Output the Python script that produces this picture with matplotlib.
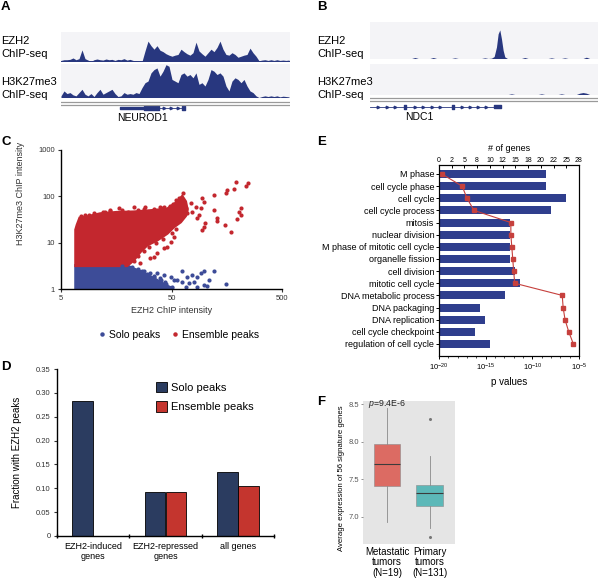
from matplotlib import pyplot as plt
from matplotlib.lines import Line2D
import numpy as np

W, H = 601, 579
plt.rcParams['font.family'] = ['Liberation Sans', 'DejaVu Sans']
plt.rcParams['mathtext.fontset'] = 'custom'
plt.rcParams['mathtext.rm'] = 'Liberation Sans'
plt.rcParams['mathtext.it'] = 'Liberation Sans:italic'

NAVY = "#28377f"
TRACK_BG = "#f4f4f7"

# ---------- A: NEUROD1 locus (signal per bin) ----------
a_ezh2 = [3, 5, 5, 6, 10, 5, 8, 33, 8, 4, 0, 5, 7, 5, 4, 7, 5, 6, 3, 6, 5, 8, 4, 6, 3, 2,
          0, 0, 30, 58, 45, 35, 45, 32, 28, 22, 18, 15, 18, 20, 35, 28, 22, 18, 25, 55,
          30, 22, 15, 25, 35, 28, 40, 58, 35, 20, 18, 25, 20, 12, 15, 18, 20, 38, 25, 15,
          2, 4, 5, 3, 5, 3, 5, 3, 4, 3, 4]
a_h3k = [5, 20, 12, 15, 8, 5, 15, 25, 10, 5, 12, 3, 15, 25, 10, 15, 20, 25, 12, 3, 5, 15,
         10, 12, 10, 15, 12, 30, 45, 50, 75, 85, 90, 65, 80, 100, 95, 55, 50, 45, 70, 75,
         65, 70, 60, 75, 40, 45, 35, 55, 85, 80, 70, 75, 65, 35, 20, 50, 60, 55, 45, 55,
         35, 20, 15, 5, 0, 3, 5, 3, 5, 3, 5, 2, 4, 3, 2]
a_exons = [(188, 70), (258, 47), (372, 9)]
a_exon_h = [2.4, 4.4, 3.4]
a_arrows = [320, 340, 360]
a_gene_span = [188, 381]

# ---------- B: NDC1 locus ----------
b_ezh2_pos = [15, 140, 150, 160, 195, 205, 215, 260, 270, 280, 350, 360, 370, 380, 388, 395,
              400, 405, 410, 415, 420, 428, 470, 480, 490, 550, 560, 570, 590, 600, 610,
              655, 665, 675, 700]
b_ezh2 = [0, 0, 3, 0, 0, 3, 0, 0, 2, 0, 0, 2, 0, 1, 6, 35, 75, 87, 60, 25, 5, 0, 0, 3, 0,
          0, 2, 0, 0, 2, 0, 0, 4, 0, 0]
b_h3k_pos = [15, 430, 440, 450, 520, 530, 540, 580, 590, 600, 635, 645, 655, 665, 675, 700]
b_h3k = [0, 0, 2, 0, 0, 2, 0, 0, 2, 0, 0, 4, 6, 4, 0, 0]
b_exons = [(117, 5), (262, 5), (388, 20)]
b_exon_h = [4.0, 4.0, 3.0]
b_arrows = [40, 65, 90, 150, 175, 200, 225, 290, 315, 340, 365]
b_gene_span = [15, 408]

# ---------- C: scatter (dense clouds + individual points) ----------
c_split = 3.2
red_cloud_x = [6.8, 6.8, 7.0, 7.4, 8.6, 11.3, 16.0, 22.7, 32.2, 45.7, 56.3, 62.5, 67.0,
               69.4, 67.0, 60.4, 52.5, 45.7, 37.1, 30.1, 26.1, 22.7, 19.8]
red_cloud_y = [c_split, 19, 24, 34, 36, 42, 45, 46, 49, 53, 75, 99, 77,
               51, 38, 28, 22, 15.9, 11.4, 8.9, 6.4, 4.2, c_split]
blue_cloud_x = [6.8, 6.8, 19.8, 21.9, 26.1, 32.2, 39.7, 45.7, 52.5]
blue_cloud_y = [1.0, c_split, c_split, 2.8, 2.4, 1.85, 1.4, 1.15, 1.0]
red_x = [191, 244, 235, 160, 184, 155, 121, 121, 128, 130, 152, 172, 212, 205, 215, 195,
         95, 98, 92, 88.5, 82.6, 77, 99.8, 98.4, 95, 85.5, 74.4, 69.4, 52.5, 49, 45.7,
         42.6, 37.1, 34.5, 32.2, 60.4, 62.5, 67, 63.8, 29, 16.6, 13.9, 12.1, 22.7, 39.7,
         26.1,
         9.0, 10.0, 12.5, 14.0, 18.0, 20.0, 25.0, 28.0, 35.0, 40.0, 43.0, 48.0, 52.0,
         55.0, 58.0, 55.0, 50.0, 42.0, 36.0, 31.0, 28.0, 25.0, 23.0, 7.6, 8.2]
red_y = [208, 191, 168, 137, 142, 116, 107, 51, 34, 30, 24, 17.3, 55, 47, 40, 32,
         91, 77, 55, 40, 60, 47, 26, 22, 19, 34, 71, 43, 13.5, 10.5, 8.2,
         7.6, 5.9, 5.0, 4.6, 40, 77, 55, 116, 58, 55, 51, 47, 60, 58,
         3.7,
         40, 44, 45, 49, 50, 46, 50, 52, 53, 55, 60, 62, 68,
         85, 90, 20, 16, 12, 10, 8, 6.5, 5.2, 4.0, 38, 40]
blue_x = [28.0, 37.1, 42.6, 49.0, 62.5, 69.4, 77.1, 85.5, 91.8, 98.4, 109, 121, 155, 98.4,
          79.8, 62.5, 52.5, 34.5, 30.1, 44.1, 67, 85.5, 105, 7.2, 7.2, 32.2, 39.7, 56.3, 72,
          22, 25, 27, 30, 35, 40, 45, 50, 18]
blue_y = [2.4, 2.2, 2.0, 1.85, 2.4, 1.85, 2.0, 1.85, 2.2, 2.4, 1.56, 2.4, 1.28, 1.22,
          1.44, 1.44, 1.56, 1.85, 1.44, 1.44, 1.12, 1.12, 1.16, 2.5, 1.3, 2.2, 1.7, 1.6, 1.32,
          3.0, 2.7, 2.5, 2.1, 1.9, 1.6, 1.3, 1.1, 3.1]

# ---------- D: bars ----------
d_groups = ["EZH2-induced\ngenes", "EZH2-repressed\ngenes", "all genes"]
d_solo = [0.282, 0.092, 0.134]
d_ensemble = [0.0, 0.092, 0.104]
d_yticks = [0, 0.05, 0.10, 0.15, 0.20, 0.25, 0.30, 0.35]
d_yticklabels = ["0", "0.05", "0.10", "0.15", "0.20", "0.25", "0.30", "0.35"]

# ---------- E: GO terms ----------
e_terms = ["M phase", "cell cycle phase", "cell cycle", "cell cycle process", "mitosis",
           "nuclear division", "M phase of mitotic cell cycle", "organelle fission",
           "cell division", "mitotic cell cycle", "DNA metabolic process", "DNA packaging",
           "DNA replication", "cell cycle checkpoint", "regulation of cell cycle"]
e_genes = [21, 21, 25, 22, 14, 14, 14, 14, 15, 16, 13, 8, 9, 7, 10]
e_pvals = [2e-20, 3e-18, 1e-17, 5.6e-17, 5e-13, 5e-13, 6.3e-13, 8e-13, 1e-12, 1.3e-12,
           1.6e-7, 2e-7, 3.2e-7, 8e-7, 2.5e-6]
e_gene_ticks = [0, 2.5, 5, 7.5, 10, 12.5, 15, 17.5, 20, 22.5, 25, 27.5]
e_gene_ticklabels = ["0", "2", "5", "8", "10", "12", "15", "18", "20", "22", "25", "28"]
e_p_ticks = [1e-20, 1e-15, 1e-10, 1e-5]
e_p_ticklabels = [r"$10^{-20}$", r"$10^{-15}$", r"$10^{-10}$", r"$10^{-5}$"]

# ---------- F: boxplots ----------
f_labels = ["Metastatic\ntumors\n(N=19)", "Primary\ntumors\n(N=131)"]
f_med = [7.70, 7.32]
f_q1 = [7.41, 7.15]
f_q3 = [7.97, 7.42]
f_lo = [6.93, 6.85]
f_hi = [8.45, 7.81]
f_fliers = [[], [6.73, 8.30]]


def add_ax(fig, x0, y0, x1, y1):
    return fig.add_axes([x0 / W, 1 - y1 / H, (x1 - x0) / W, (y1 - y0) / H])


def ftext(fig, x, y, s, **kw):
    kw.setdefault("va", "center")
    fig.text(x / W, 1 - y / H, s, **kw)


def clean(ax):
    ax.set_xticks([])
    ax.set_yticks([])
    for s in ax.spines.values():
        s.set_visible(False)


def track(ax, x, y, ymax, xlim):
    clean(ax)
    ax.set_facecolor(TRACK_BG)
    ax.fill_between(x, 0, y, color=NAVY, lw=0)
    ax.axhline(0, color=NAVY, lw=0.7)
    ax.set_xlim(*xlim)
    ax.set_ylim(-1.5, ymax)


def gene(ax, xlim, gy, span, exons, exon_h, arrows):
    clean(ax)
    ax.set_xlim(*xlim)
    ax.set_ylim(15, 0)
    ax.axhline(3, color="#9a9a9a", lw=0.9)
    ax.axhline(6, color="#9a9a9a", lw=0.9)
    ax.plot(span, [gy, gy], color=NAVY, lw=0.6)
    for (s, w), h in zip(exons, exon_h):
        ax.broken_barh([(s, w)], (gy - h / 2, h), color=NAVY)
    ax.plot(arrows, [gy] * len(arrows), ls="", marker=">", ms=1.8, color=NAVY)


def panel_ab(fig):
    ax = add_ax(fig, 61, 32, 290, 62)
    track(ax, np.linspace(10, 694, len(a_ezh2)), a_ezh2, 84, (10, 697))
    ax = add_ax(fig, 61, 64, 290, 98)
    track(ax, np.linspace(10, 694, len(a_h3k)), a_h3k, 102, (10, 697))
    ax = add_ax(fig, 61, 99, 290, 114)
    gene(ax, (10, 697), 9, a_gene_span, a_exons, a_exon_h, a_arrows)
    ftext(fig, 142, 118, "NEUROD1", ha="center", fontsize=7.5)

    ax = add_ax(fig, 370, 22, 598, 59)
    track(ax, b_ezh2_pos, b_ezh2, 111, (15, 700))
    ax = add_ax(fig, 370, 64, 598, 95)
    track(ax, b_h3k_pos, b_h3k, 93, (15, 700))
    ax = add_ax(fig, 370, 95, 598, 110)
    gene(ax, (15, 700), 12, b_gene_span, b_exons, b_exon_h, b_arrows)
    ftext(fig, 419, 117, "NDC1", ha="center", fontsize=7.5)

    for x0 in (1, 317):
        ftext(fig, x0, 41, "EZH2", fontsize=8)
        ftext(fig, x0, 54, "ChIP-seq", fontsize=8)
        ftext(fig, x0, 82, "H3K27me3", fontsize=8)
        ftext(fig, x0, 95.5, "ChIP-seq", fontsize=8)


def panel_c(fig):
    red, blue = "#c3272e", "#3d4c98"
    ax = add_ax(fig, 61, 150, 282, 289)
    ax.set_xscale("log")
    ax.set_yscale("log")
    ax.fill(blue_cloud_x, blue_cloud_y, color=blue, lw=2.2, ec=blue)
    ax.fill(red_cloud_x, red_cloud_y, color=red, lw=2.2, ec=red)
    ax.scatter(blue_x, blue_y, s=9, color=blue, lw=0)
    ax.scatter(red_x, red_y, s=9, color=red, lw=0)
    ax.set_xlim(5, 500)
    ax.set_ylim(1, 1000)
    ax.set_xticks([5, 50, 500], ["5", "50", "500"])
    ax.set_yticks([1, 10, 100, 1000], ["1", "10", "100", "1000"])
    ax.minorticks_off()
    ax.tick_params(labelsize=5.5, length=2.5, width=0.8, pad=2, colors="#333333")
    for s in ("top", "right"):
        ax.spines[s].set_visible(False)
    for s in ("left", "bottom"):
        ax.spines[s].set_linewidth(1.0)
    ax.set_xlabel("EZH2 ChIP intensity", fontsize=6.5, labelpad=3, color="#333333")
    ax.set_ylabel("H3K27me3 ChIP intensity", fontsize=6.5, color="#333333")
    ax.yaxis.set_label_coords(-0.165, 0.69)
    handles = [Line2D([], [], ls="", marker="o", ms=2.2, color=blue),
               Line2D([], [], ls="", marker="o", ms=2.2, color=red)]
    ax.legend(handles, ["Solo peaks", "Ensemble peaks"], ncol=2, frameon=False,
              fontsize=7.5, loc="center", bbox_to_anchor=(0.53, -0.33),
              handletextpad=0.2, columnspacing=0.9, handlelength=1.0)


def panel_d(fig):
    solo_c, ens_c = "#2b3c60", "#c4352e"
    ax = add_ax(fig, 57, 369, 274, 536)
    centers = np.arange(len(d_groups)) + 0.5
    w = 0.29
    b1 = ax.bar(centers - w / 2, d_solo, w, color=solo_c, edgecolor="black", lw=0.6)
    b2 = ax.bar(centers + w / 2, d_ensemble, w, color=ens_c, edgecolor="black", lw=0.6)
    ax.set_xlim(0, 3)
    ax.set_ylim(0, 0.35)
    ax.set_yticks(d_yticks, d_yticklabels)
    ax.set_xticks([0, 1, 2, 3], [])
    ax.set_xticks(centers, d_groups, minor=True)
    ax.tick_params(axis="x", which="minor", length=0, labelsize=6.5, pad=4)
    ax.tick_params(axis="x", which="major", length=2.5, direction="inout", width=1)
    ax.tick_params(axis="y", labelsize=5.5, length=2.5, width=0.8, pad=2, colors="#333333")
    for s in ("top", "right"):
        ax.spines[s].set_visible(False)
    for s in ("left", "bottom"):
        ax.spines[s].set_linewidth(1.0)
    ax.set_ylabel("Fraction with EZH2 peaks", fontsize=7)
    ax.yaxis.set_label_coords(-0.16, 0.5)
    ax.legend([b1, b2], ["Solo peaks", "Ensemble peaks"], frameon=False, fontsize=8,
              loc="upper left", bbox_to_anchor=(0.41, 0.985), handlelength=1.0,
              handleheight=1.1, handletextpad=0.35, labelspacing=0.75)


def panel_e(fig):
    ax = add_ax(fig, 439, 165, 579, 356)
    y = np.arange(len(e_terms))
    ax.barh(y, e_genes, height=0.66, color="#2f3e8d")

    ax2 = ax.twiny()
    ax2.set_xscale("log")
    ax2.set_xlim(1e-20, 1e-5)
    ax2.plot(e_pvals, y, color="#c6403d", lw=0.8, marker="s", ms=2.3)
    ax2.xaxis.tick_bottom()
    ax2.xaxis.set_label_position("bottom")
    ax2.set_xticks(e_p_ticks, e_p_ticklabels)
    ax2.set_xticks([10.0 ** k for k in range(-19, -5)], minor=True)
    ax2.set_xticklabels([], minor=True)
    ax2.tick_params(axis="x", which="major", labelsize=5.5, length=2.5, pad=1.5, width=0.7)
    ax2.tick_params(axis="x", which="minor", length=1.5, width=0.5)
    ax2.set_xlabel("p values", fontsize=7, labelpad=3)

    ax.set_xlim(0, 27.5)
    ax.set_ylim(14.99, -0.74)
    ax.xaxis.tick_top()
    ax.xaxis.set_label_position("top")
    ax.set_xticks(e_gene_ticks, e_gene_ticklabels)
    ax.set_yticks(y, e_terms)
    ax.tick_params(axis="x", labelsize=5, length=2, pad=0.8, width=0.7, direction="in")
    ax.tick_params(axis="y", labelsize=6.5, length=2.5, pad=1, width=0.7)
    ax.set_xlabel("# of genes", fontsize=6.5, labelpad=4)
    for s in ax.spines.values():
        s.set_linewidth(0.8)
    for s in ax2.spines.values():
        s.set_linewidth(0.8)
    ax2.set_ylim(14.99, -0.74)


def panel_f(fig):
    ax = add_ax(fig, 363, 401, 455, 544)
    ax.set_facecolor("#e5e5e5")
    stats = []
    for i in range(2):
        stats.append(dict(med=f_med[i], q1=f_q1[i], q3=f_q3[i], whislo=f_lo[i],
                          whishi=f_hi[i], fliers=f_fliers[i]))
    bp = ax.bxp(stats, positions=[1, 2], widths=0.62, patch_artist=True, showcaps=False,
                boxprops=dict(lw=0.4, edgecolor="#8a8a8a"),
                medianprops=dict(color="#3b3b3b", lw=0.8),
                whiskerprops=dict(color="#8a8a8a", lw=0.6),
                flierprops=dict(marker="o", ms=1.2, mfc="#777777", mec="#777777"))
    for patch, c in zip(bp["boxes"], ["#dc6b63", "#5cb8b8"]):
        patch.set_facecolor(c)
    ax.set_xlim(0.435, 2.6)
    ax.set_ylim(6.64, 8.54)
    ax.set_yticks([7.0, 7.5, 8.0, 8.5], ["7.0", "7.5", "8.0", "8.5"])
    ax.set_xticks([1, 2], f_labels, linespacing=1.05)
    ax.tick_params(axis="y", labelsize=5.5, labelcolor="#555555", color="#666666",
                   length=1.5, pad=1.5, width=0.5)
    ax.tick_params(axis="x", labelsize=7, length=0, pad=2)
    for s in ax.spines.values():
        s.set_visible(False)
    ax.text(1, 8.5, r"$p$=9.4E-6", ha="center", va="center", fontsize=6.3, color="#222222")
    ax.set_ylabel("Average expression of 56 signature genes", fontsize=5.6)
    ax.yaxis.set_label_coords(-0.2, 0.46)


def main():
    fig = plt.figure(figsize=(W / 100, H / 100), dpi=100)
    panel_ab(fig)
    panel_c(fig)
    panel_d(fig)
    panel_e(fig)
    panel_f(fig)
    for lab, x, y in [("A", 1, 7), ("B", 317, 7), ("C", 1, 142), ("D", 1, 367),
                      ("E", 317, 142), ("F", 317, 402)]:
        ftext(fig, x, y, lab, fontsize=9.5, fontweight="bold")
    fig.savefig("out.png", dpi=100)


if __name__ == "__main__":
    main()
